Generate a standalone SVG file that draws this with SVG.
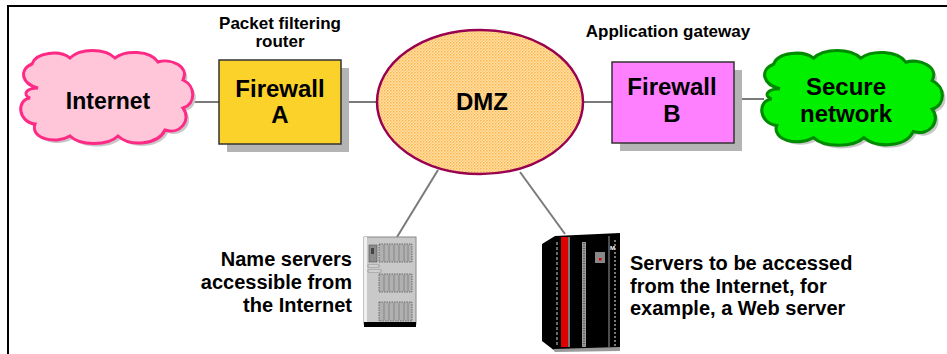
<svg xmlns="http://www.w3.org/2000/svg" width="947" height="354" viewBox="0 0 947 354">
  <style>
    .lbl { font-family: "Liberation Sans", Arial, sans-serif; font-weight: bold; fill: #000; }
    .big { font-size: 24px; text-anchor: middle; }
    .cap { font-size: 17px; text-anchor: middle; }
    .note { font-size: 20px; }
    .wire { stroke: #7a7a7a; stroke-width: 2; fill: none; }
    .box { stroke: #333; stroke-width: 1.5; }
    .shadow { fill: #b4b4b4; }
  </style>
  <defs>
    <pattern id="dots" width="3" height="3" patternUnits="userSpaceOnUse">
      <rect width="3" height="3" fill="#ffe2ac"/>
      <rect x="0" y="0" width="1.5" height="1.5" fill="#ffb347"/>
      <rect x="1.5" y="1.5" width="1.5" height="1.5" fill="#ffc870"/>
    </pattern>
    <path id="cloud" d="M38,88 C22,84 18,70 32,64 C36,52 60,50 70,58 C80,48 105,48 115,58 C125,50 150,50 158,62 C170,58 190,66 183,80 C196,86 196,104 183,108 C192,120 180,135 165,130 C158,145 130,147 118,136 C108,146 80,146 70,136 C55,145 30,138 35,124 C18,122 16,100 30,98 C22,95 26,88 38,88 Z"/>
  </defs>

  <rect width="947" height="354" fill="#fff"/>
  <!-- frame -->
  <path d="M8,354 V6 H947" fill="none" stroke="#000" stroke-width="2"/>

  <!-- connectors -->
  <g id="connectors">
    <line class="wire" x1="190" y1="102" x2="219" y2="102"/>
    <line class="wire" x1="341" y1="102" x2="378" y2="102"/>
    <line class="wire" x1="582" y1="102" x2="612" y2="102"/>
    <line class="wire" x1="734" y1="99" x2="764" y2="99"/>
    <line class="wire" x1="438" y1="170" x2="397" y2="237"/>
    <line class="wire" x1="520" y1="172" x2="565" y2="234"/>
  </g>

  <!-- Internet cloud -->
  <g id="internet">
    <use href="#cloud" transform="translate(3,3)" fill="#c8c8c8"/>
    <use href="#cloud" fill="#ffc6d9" stroke="#ff2a86" stroke-width="3"/>
    <text class="lbl big" x="108" y="109" style="font-size:23px">Internet</text>
  </g>

  <!-- Firewall A -->
  <g id="firewall-a">
    <rect class="shadow" x="227" y="68" width="122" height="84"/>
    <rect class="box" x="219" y="60" width="122" height="84" fill="#fad22a"/>
    <text class="lbl big" x="280" y="97">Firewall</text>
    <text class="lbl big" x="280" y="123">A</text>
    <text class="lbl cap" x="280" y="29">Packet filtering</text>
    <text class="lbl cap" x="280" y="47">router</text>
  </g>

  <!-- DMZ -->
  <g id="dmz">
    <ellipse cx="480" cy="102" rx="103" ry="72" fill="url(#dots)" stroke="#990050" stroke-width="2.5"/>
    <text class="lbl big" x="482" y="110">DMZ</text>
  </g>

  <!-- Firewall B -->
  <g id="firewall-b">
    <rect class="shadow" x="620" y="70" width="122" height="81"/>
    <rect class="box" x="612" y="62" width="122" height="81" fill="#ff80ff"/>
    <text class="lbl big" x="672" y="95">Firewall</text>
    <text class="lbl big" x="672" y="122">B</text>
    <text class="lbl cap" x="668" y="37">Application gateway</text>
  </g>

  <!-- Secure network cloud -->
  <g id="secure-network">
    <g transform="translate(761,52) scale(1.05,1.02) translate(-20,-52)">
      <use href="#cloud" transform="translate(3,3)" fill="#c8c8c8"/>
      <use href="#cloud" fill="#00f000" stroke="#008a00" stroke-width="3"/>
    </g>
    <text class="lbl big" x="846" y="95">Secure</text>
    <text class="lbl big" x="846" y="122">network</text>
  </g>

  <!-- Name servers (tower) -->
  <g id="name-servers">
    <rect x="364" y="237" width="52" height="87" fill="#c9c9c9" stroke="#888" stroke-width="1"/>
    <rect x="364" y="237" width="3" height="87" fill="#f0f0f0"/>
    <rect x="364" y="322" width="52" height="5" fill="#000"/>
    <rect x="369" y="245" width="8" height="17" fill="#8c8c8c" stroke="#555" stroke-width="0.6"/>
    <rect x="371" y="248" width="3" height="6" fill="#444"/>
    <rect x="368" y="265" width="11" height="2" fill="#f4f4f4" stroke="#666" stroke-width="0.5"/>
    <rect x="368" y="270" width="13" height="2" fill="#f4f4f4" stroke="#666" stroke-width="0.5"/>
    <g fill="#b0b0b0" stroke="#555" stroke-width="0.8" stroke-dasharray="1.5 1">
      <rect x="379" y="244" width="33" height="18"/>
      <rect x="379" y="274" width="33" height="18"/>
      <rect x="379" y="302" width="33" height="19"/>
    </g>
    <g stroke="#777" stroke-width="0.7">
      <path d="M384,245 V261 M389,245 V261 M394,245 V261 M399,245 V261 M404,245 V261 M408,245 V261"/>
      <path d="M384,275 V291 M389,275 V291 M394,275 V291 M399,275 V291 M404,275 V291 M408,275 V291"/>
      <path d="M384,303 V320 M389,303 V320 M394,303 V320 M399,303 V320 M404,303 V320 M408,303 V320"/>
    </g>
    <text class="lbl note" x="352" y="266" text-anchor="end">Name servers</text>
    <text class="lbl note" x="352" y="289" text-anchor="end">accessible from</text>
    <text class="lbl note" x="352" y="312" text-anchor="end">the Internet</text>
  </g>

  <!-- Web server (rack) -->
  <g id="web-server">
    <path d="M542,244 L555,236 L620,233 L620,348 L555,351 L542,341 Z" fill="#000"/>
    <path d="M553,349 L620,347 L620,351 L555,352 Z" fill="#9a9a9a"/>
    <path d="M557,242 L557,345" stroke="#8a8a8a" stroke-width="1.5" stroke-dasharray="3 2"/>
    <rect x="561" y="237" width="7" height="110" fill="#e00000"/>
    <rect x="568" y="237" width="2" height="110" fill="#777"/>
    <rect x="582" y="242" width="4" height="105" fill="#9a9a9a"/>
    <path d="M584,243 V346" stroke="#222" stroke-width="1" stroke-dasharray="1 1.5"/>
    <rect x="595" y="252" width="10" height="11" fill="#888"/>
    <rect x="599" y="258" width="2.5" height="2.5" fill="#e00000"/>
    <path d="M609,236 V347" stroke="#9a9a9a" stroke-width="1"/>
    <path d="M615,240 V346" stroke="#c8c8c8" stroke-width="1.2" stroke-dasharray="2 2"/>
    <text x="610" y="250" font-family="Liberation Sans, sans-serif" font-weight="bold" font-size="6" fill="#fff">M</text>
    <text class="lbl note" x="630" y="270">Servers to be accessed</text>
    <text class="lbl note" x="630" y="293">from the Internet, for</text>
    <text class="lbl note" x="630" y="315">example, a Web server</text>
  </g>
</svg>
